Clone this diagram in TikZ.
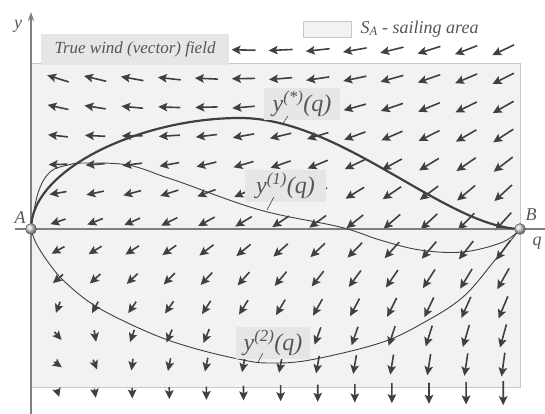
\documentclass[tikz,border=0pt]{standalone}
\usepackage{fontspec}
\setmainfont{Liberation Serif}
\usetikzlibrary{arrows.meta, positioning, calc}

\definecolor{areagray}{HTML}{F2F2F2}
\definecolor{boxgray}{HTML}{E6E6E6}
\definecolor{areaedge}{HTML}{C8C8C8}
\definecolor{inkgray}{HTML}{404040}
\definecolor{axisgray}{HTML}{7F7F7F}
\definecolor{textgray}{HTML}{555555}

\tikzset{
  wind/.style={inkgray, line width=1.6pt, -{Stealth[length=9pt,width=8.5pt,inset=1.8pt]}},
  axisline/.style={axisgray, line width=1.6pt},
  route/.style={inkgray, line width=0.9pt},
  bestroute/.style={inkgray, line width=2.2pt},
  curvelabel/.style={fill=boxgray, inner sep=0pt, minimum height=32pt, text=textgray,
    font=\fontsize{24}{26}\selectfont\itshape},
  letter/.style={text=textgray, inner sep=0pt, font=\fontsize{18}{20}\selectfont\itshape},
  ball/.style={circle, draw=axisgray!70!black, ball color=gray!35, inner sep=0pt, minimum size=11pt}
}

\begin{document}
\begin{tikzpicture}[x=1pt, y=1pt]
    \useasboundingbox (-31,-185) rectangle (514,229);

    % sailing area
    \fill[areagray] (0,-158) rectangle (489,166);
    \draw[areaedge, line width=0.8pt] (0,-158) rectangle (489,166);

    % wind field, 13 x 13 arrows
    \foreach \rw in {0,...,12} {
      \foreach \cl in {0,...,12} {
        \pgfmathsetmacro{\cu}{\cl/12}
        \pgfmathsetmacro{\cw}{\rw/12}
        \pgfmathsetmacro{\aang}{160+45*\cu+\cw*sqrt(\cw)*(110-45*\cu)+80*exp(-(\cl*\cl+(\rw-10.5)*(\rw-10.5))/1.5)}
        \pgfmathsetmacro{\alen}{8+16*(1-\cw*(1-\cu))}
        \draw[wind] (27+37.1*\cl, 179-28.6*\rw) ++(\aang+180:\alen/2) -- ++(\aang:\alen);
      }
    }

    % axes
    \draw[axisline] (-16,0) -- (514,0);
    \draw[axisline, -{Stealth[length=9pt,width=6pt]}] (0,-185) -- (0,217);
    \node[letter] at (-13,203) {y};
    \node[letter] at (506,-14) {q};

    % end points
    \coordinate (A) at (0,0);
    \coordinate (B) at (489,0);

    % optimal route y*
    \draw[bestroute] (A) .. controls (0,60) and (110,111) .. (209,111)
        .. controls (310,111) and (415,2) .. (B);

    % route y1
    \draw[route] plot[smooth, tension=0.6] coordinates {(A) (7,36) (19,57) (37,64) (54,66)
        (97,64) (134,52) (149,47) (229,19) (309,2) (349,-11) (389,-21) (432,-23) (472,-13) (B)};

    % route y2
    \draw[route] plot[smooth, tension=0.6] coordinates {(A) (5,-14) (17,-33) (34,-53) (66,-78)
        (119,-104) (162,-119) (212,-131) (239,-134) (279,-131) (349,-114) (392,-94) (432,-68)
        (464,-31) (B)};

    \node[ball] (Aball) at (A) {};
    \node[ball] (Bball) at (B) {};
    \node[letter] at (-11,11) {A};
    \node[letter] at (500,14) {B};

    % route labels
    \node[curvelabel, minimum width=76pt] (ystar) at (271,125) {y\textsuperscript{(*)}(q)};
    \node[curvelabel, minimum width=81pt] (yone) at (254.5,43) {y\textsuperscript{(1)}(q)};
    \node[curvelabel, minimum width=74pt] (ytwo) at (242,-114) {y\textsuperscript{(2)}(q)};
    \coordinate (ystarfoot) at (251,104);
    \coordinate (yonefoot) at (236,19);
    \coordinate (ytwofoot) at (227,-133);
    \draw[route, line width=0.6pt] ([shift={(24,4)}]ystar.south west) -- (ystarfoot);
    \draw[route, line width=0.6pt] ([shift={(29,5)}]yone.south west) -- (yonefoot);
    \draw[route, line width=0.6pt] ([shift={(27,6)}]ytwo.south west) -- (ytwofoot);

    % legend
    \node[fill=boxgray, inner sep=0pt, minimum width=188pt, minimum height=31pt,
          text=textgray, font=\fontsize{17}{19}\selectfont\itshape] (windbox) at (104,179.5)
          {True wind (vector) field};
    \node[fill=areagray, draw=areaedge, line width=0.6pt, inner sep=0pt,
          minimum width=48pt, minimum height=16pt] (legbox) at (296,200) {};
    \node[right=9pt of legbox, text=textgray, inner sep=0pt,
          font=\fontsize{18}{20}\selectfont\itshape] (legtext)
          {S\textsubscript{A} - sailing area};
\end{tikzpicture}
\end{document}
